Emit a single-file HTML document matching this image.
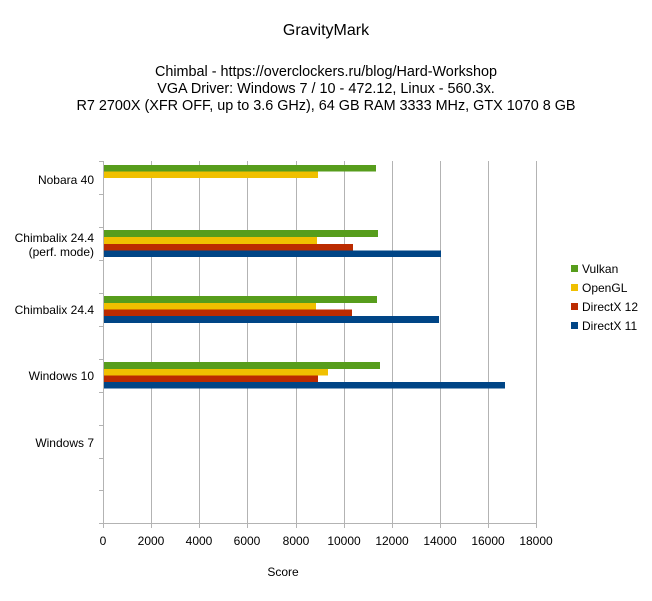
<!DOCTYPE html>
<html><head><meta charset="utf-8"><style>
body{margin:0;background:#fff;width:652px;height:596px;overflow:hidden}
svg text{font-family:"Liberation Sans",sans-serif;fill:#000}
</style></head><body>
<svg width="652" height="596" xmlns="http://www.w3.org/2000/svg">
<text x="326" y="35" font-size="16" text-anchor="middle">GravityMark</text>
<text x="326" y="76" font-size="14.4" text-anchor="middle">Chimbal - https://overclockers.ru/blog/Hard-Workshop</text>
<text x="326" y="93" font-size="14.4" text-anchor="middle">VGA Driver: Windows 7 / 10 - 472.12, Linux - 560.3x.</text>
<text x="326" y="110" font-size="14.4" text-anchor="middle">R7 2700X (XFR OFF, up to 3.6 GHz), 64 GB RAM 3333 MHz, GTX 1070 8 GB</text>
<g stroke="#b3b3b3" stroke-width="1">
<line x1="151.5" y1="161" x2="151.5" y2="528"/><line x1="199.5" y1="161" x2="199.5" y2="528"/>
<line x1="247.5" y1="161" x2="247.5" y2="528"/><line x1="296.5" y1="161" x2="296.5" y2="528"/>
<line x1="344.5" y1="161" x2="344.5" y2="528"/><line x1="392.5" y1="161" x2="392.5" y2="528"/>
<line x1="440.5" y1="161" x2="440.5" y2="528"/><line x1="488.5" y1="161" x2="488.5" y2="528"/>
<line x1="536.5" y1="161" x2="536.5" y2="528"/>
<line x1="103.5" y1="161" x2="103.5" y2="528"/>
<line x1="99" y1="523.5" x2="536" y2="523.5"/>
<line x1="99" y1="161.5" x2="103" y2="161.5"/><line x1="99" y1="194.5" x2="103" y2="194.5"/>
<line x1="99" y1="227.5" x2="103" y2="227.5"/><line x1="99" y1="260.5" x2="103" y2="260.5"/>
<line x1="99" y1="293.5" x2="103" y2="293.5"/><line x1="99" y1="326.5" x2="103" y2="326.5"/>
<line x1="99" y1="359.5" x2="103" y2="359.5"/><line x1="99" y1="392.5" x2="103" y2="392.5"/>
<line x1="99" y1="425.5" x2="103" y2="425.5"/><line x1="99" y1="458.5" x2="103" y2="458.5"/>
<line x1="99" y1="490.5" x2="103" y2="490.5"/>
</g>
<g>
<rect x="104" y="165" width="272" height="6.5" fill="#579d1c"/>
<rect x="104" y="171.5" width="214" height="6.5" fill="#f0c000"/>
<rect x="104" y="230" width="274" height="7" fill="#579d1c"/>
<rect x="104" y="237" width="213" height="7" fill="#f0c000"/>
<rect x="104" y="244" width="249" height="6.5" fill="#bb2b00"/>
<rect x="104" y="250.5" width="337" height="6.5" fill="#004586"/>
<rect x="104" y="296" width="273" height="7" fill="#579d1c"/>
<rect x="104" y="303" width="212" height="6.5" fill="#f0c000"/>
<rect x="104" y="309.5" width="248" height="6.5" fill="#bb2b00"/>
<rect x="104" y="316" width="335" height="7" fill="#004586"/>
<rect x="104" y="362" width="276" height="7" fill="#579d1c"/>
<rect x="104" y="369" width="224" height="6.5" fill="#f0c000"/>
<rect x="104" y="375.5" width="214" height="6.5" fill="#bb2b00"/>
<rect x="104" y="382" width="401" height="6.5" fill="#004586"/>
</g>
<g font-size="12" text-anchor="end">
<text x="94" y="184">Nobara 40</text>
<text x="94" y="242">Chimbalix 24.4</text>
<text x="94" y="256">(perf. mode)</text>
<text x="94" y="314">Chimbalix 24.4</text>
<text x="94" y="380">Windows 10</text>
<text x="94" y="447">Windows 7</text>
</g>
<g font-size="12" text-anchor="middle">
<text x="103" y="545">0</text><text x="151" y="545">2000</text><text x="199" y="545">4000</text>
<text x="247" y="545">6000</text><text x="296" y="545">8000</text><text x="344" y="545">10000</text>
<text x="392" y="545">12000</text><text x="440" y="545">14000</text><text x="488" y="545">16000</text>
<text x="536" y="545">18000</text>
<text x="283" y="576">Score</text>
</g>
<rect x="571" y="265" width="7" height="7" fill="#579d1c"/>
<rect x="571" y="284" width="7" height="7" fill="#f0c000"/>
<rect x="571" y="303" width="7" height="7" fill="#bb2b00"/>
<rect x="571" y="322" width="7" height="7" fill="#004586"/>
<g font-size="12">
<text x="582" y="273">Vulkan</text>
<text x="582" y="292">OpenGL</text>
<text x="582" y="311">DirectX  12</text>
<text x="582" y="330">DirectX  11</text>
</g>
</svg>
</body></html>
